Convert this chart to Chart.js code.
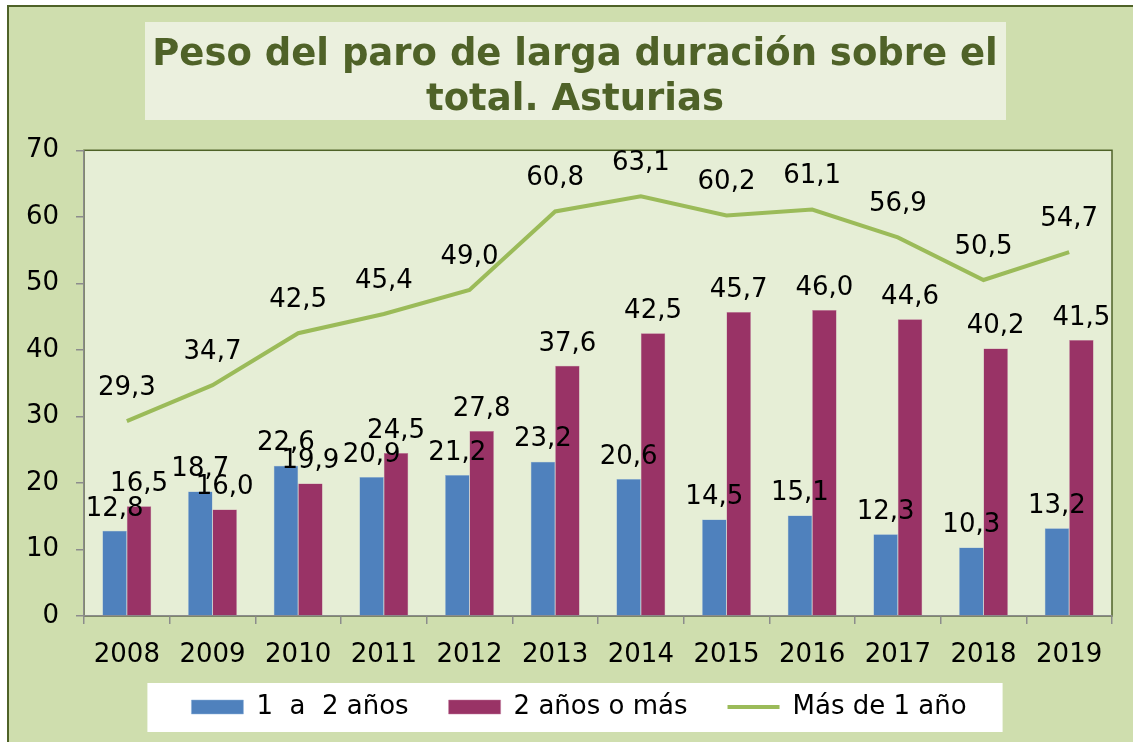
<!DOCTYPE html>
<html>
<head>
<meta charset="utf-8">
<script src="https://cdn.jsdelivr.net/npm/chart.js@4.4.1/dist/chart.umd.min.js"></script>
<style>
  html, body { margin: 0; padding: 0; background: #ffffff; }
  canvas { display: block; }
</style>
</head>
<body>
<canvas id="grafico" width="1133" height="742"></canvas>
<script>
// datos
const anios = ['2008', '2009', '2010', '2011', '2012', '2013', '2014', '2015', '2016', '2017', '2018', '2019'];
const unoADos = [12.8, 18.7, 22.6, 20.9, 21.2, 23.2, 20.6, 14.5, 15.1, 12.3, 10.3, 13.2];
const dosOMas = [16.5, 16.0, 19.9, 24.5, 27.8, 37.6, 42.5, 45.7, 46.0, 44.6, 40.2, 41.5];
const masDeUno = [29.3, 34.7, 42.5, 45.4, 49.0, 60.8, 63.1, 60.2, 61.1, 56.9, 50.5, 54.7];
const ticksY = [0, 10, 20, 30, 40, 50, 60, 70];

const FUENTE = "'DejaVu Sans', Verdana, sans-serif";
const fmt = v => v.toFixed(1).replace('.', ',');

// titulo y leyenda algo desplazados respecto al centro del grafico (como en Excel)
const desplazar = {
    id: 'desplazar',
    afterLayout(chart) {
        const t = chart.titleBlock;
        t.left += 19; t.right += 19;
        const lg = chart.legend;
        lg.left += 23; lg.right += 23;
        lg.top -= 12; lg.bottom -= 12;
    }
};

// fondos: marco exterior, caja del titulo, area de trazado y caja de leyenda
const fondos = {
    id: 'fondos',
    beforeDraw(chart) {
        const c = chart.ctx;
        const a = chart.chartArea;
        c.save();
        c.fillStyle = '#ffffff';
        c.fillRect(0, 0, chart.width, chart.height);
        c.fillStyle = '#cfdeae';
        c.fillRect(8, 6, chart.width - 8, chart.height - 6);
        c.strokeStyle = '#4f6228';
        c.lineWidth = 2;
        c.beginPath();
        c.moveTo(8, chart.height);
        c.lineTo(8, 6);
        c.lineTo(chart.width, 6);
        c.stroke();
        // caja titulo
        c.fillStyle = '#ebf0de';
        c.fillRect(145, 22, 861, 98);
        // area de trazado
        c.fillStyle = '#e6eed6';
        c.fillRect(a.left, a.top, a.right - a.left, a.bottom - a.top);
        c.strokeStyle = '#4f6228';
        c.lineWidth = 1.5;
        c.strokeRect(a.left, a.top, a.right - a.left, a.bottom - a.top);
        // caja leyenda
        const hb = chart.legend.legendHitBoxes;
        if (hb && hb.length) {
            const x0 = Math.min(...hb.map(h => h.left)) - 44;
            const x1 = Math.max(...hb.map(h => h.left + h.width)) + 36;
            const yc = hb[0].top + hb[0].height / 2;
            c.fillStyle = '#ffffff';
            c.fillRect(x0, yc - 24, x1 - x0, 49);
        }
        c.restore();
    }
};

// etiquetas de datos encima de barras y puntos
const etiquetas = {
    id: 'etiquetas',
    afterDatasetsDraw(chart) {
        const c = chart.ctx;
        c.save();
        c.font = '26px ' + FUENTE;
        c.fillStyle = '#000000';
        c.textAlign = 'center';
        c.textBaseline = 'middle';
        chart.data.datasets.forEach((ds, i) => {
            const meta = chart.getDatasetMeta(i);
            const sube = ds.type === 'line' ? 33 : 22;
            meta.data.forEach((el, j) => {
                c.fillText(fmt(ds.data[j]), el.x, el.y - sube);
            });
        });
        c.restore();
    }
};

const ctx = document.getElementById('grafico').getContext('2d');

new Chart(ctx, {
    data: {
        labels: anios,
        datasets: [
            {
                type: 'bar',
                label: '1  a  2 años',
                data: unoADos,
                backgroundColor: '#4f81bd',
                borderColor: '#8fb0d8',
                borderWidth: 0.5,
                pointStyle: 'rect',
                order: 1
            },
            {
                type: 'bar',
                label: '2 años o más',
                data: dosOMas,
                backgroundColor: '#993366',
                borderColor: '#c07a9c',
                borderWidth: 0.5,
                pointStyle: 'rect',
                order: 1
            },
            {
                type: 'line',
                label: 'Más de 1 año',
                data: masDeUno,
                borderColor: '#9bbb59',
                backgroundColor: '#9bbb59',
                borderWidth: 4,
                pointRadius: 0,
                pointStyle: 'line',
                tension: 0,
                order: 0
            }
        ]
    },
    options: {
        responsive: false,
        animation: false,
        events: [],
        datasets: {
            bar: { categoryPercentage: 0.57, barPercentage: 1.0 }
        },
        layout: { padding: { left: 0, right: 21, top: 0, bottom: 0 } },
        scales: {
            x: {
                offset: true,
                grid: { display: true, drawOnChartArea: false, drawTicks: true, tickLength: 8, offset: true, color: '#8c8c8c', lineWidth: 1.5 },
                border: { display: true, color: '#8c8c8c', width: 1.5 },
                ticks: { color: '#000000', font: { family: FUENTE, size: 26 }, padding: 16, maxRotation: 0 },
                afterFit(scale) { scale.height = 50; }
            },
            y: {
                min: 0,
                max: 70,
                afterBuildTicks(scale) { scale.ticks = ticksY.map(v => ({ value: v })); },
                grid: { display: true, drawOnChartArea: false, drawTicks: true, tickLength: 8, color: '#8c8c8c', lineWidth: 1.5 },
                border: { display: true, color: '#8c8c8c', width: 1.5 },
                ticks: { color: '#000000', font: { family: FUENTE, size: 26 }, padding: 17 },
                afterFit(scale) { scale.width = 84; }
            }
        },
        plugins: {
            title: {
                display: true,
                text: ['Peso del paro de larga duración sobre el', 'total. Asturias'],
                color: '#4f6228',
                font: { family: FUENTE, size: 37, weight: 'bold', lineHeight: 1.22 },
                padding: { top: 33, bottom: 27 }
            },
            legend: {
                position: 'bottom',
                maxHeight: 76,
                labels: {
                    sort: (a, b) => a.datasetIndex - b.datasetIndex,
                    usePointStyle: true,
                    pointStyleWidth: 52,
                    boxHeight: 14,
                    color: '#000000',
                    font: { family: FUENTE, size: 26 },
                    padding: 40
                }
            },
            tooltip: { enabled: false }
        }
    },
    plugins: [desplazar, fondos, etiquetas]
});
</script>
</body>
</html>
